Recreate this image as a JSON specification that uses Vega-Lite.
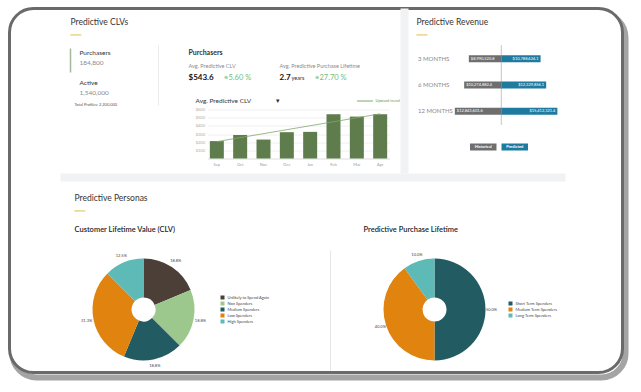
{
  "$schema": "https://vega.github.io/schema/vega-lite/v6.json",
  "background": "white",
  "padding": {"left": 7.5, "top": 6.5, "right": 5, "bottom": 5},
  "bounds": "flush",
  "spacing": 0,
  "config": {
    "font": "Lato",
    "view": {"stroke": null},
    "title": {"anchor": "start", "frame": "group", "color": "#333333", "fontWeight": "normal", "subtitleColor": "#e8c36a", "subtitleFont": "DejaVu Sans", "subtitleFontSize": 6, "subtitleFontWeight": "normal", "subtitlePadding": 6}
  },
  "resolve": {"scale": {"color": "independent", "x": "independent", "y": "independent", "theta": "independent", "stroke": "independent"}, "legend": {"color": "independent", "stroke": "independent"}},
  "vconcat": [
    {
      "hconcat": [
        {"width": 3, "height": 1, "data": {"values": []}, "mark": "point"},
        {
          "vconcat": [
            {"width": 1, "height": 5, "data": {"values": []}, "mark": "point"},
            {"width": 613, "height": 364, "view": {"stroke": "#a4a4a4", "strokeWidth": 6, "cornerRadius": 24, "fill": null}, "data": {"values": []}, "mark": "point"}
          ],
          "spacing": 0,
          "bounds": "flush"
        }
      ],
      "spacing": 0,
      "bounds": "flush"
    },
    {
      "vconcat": [
        {"width": 613, "height": 364, "view": {"stroke": "#6a6a6a", "strokeWidth": 3, "cornerRadius": 24, "fill": "white"}, "data": {"values": []}, "mark": "point"}
      ],
      "bounds": "flush"
    },
    {
      "hconcat": [
        {"width": 391, "height": 1, "data": {"values": []}, "mark": "point"},
        {"width": 8, "height": 165, "view": {"fill": "#f1f2f3"}, "data": {"values": []}, "mark": "point"}
      ],
      "spacing": 0,
      "bounds": "flush"
    },
    {"width": 1, "height": 37, "data": {"values": []}, "mark": "point"},
    {
      "hconcat": [
        {"width": 61, "height": 1, "data": {"values": []}, "mark": "point"},
        {
          "width": 88,
          "height": 60,
          "title": {"text": "Predictive CLVs", "subtitle": "━━━", "fontSize": 8.5, "offset": 7},
          "data": {"values": [
            {"metric": "Purchasers", "count": "184,800", "selected": true},
            {"metric": "Active", "count": "1,540,000", "selected": false}
          ]},
          "encoding": {"x": {"datum": 0, "type": "quantitative", "scale": {"domain": [0, 1]}, "axis": null}},
          "layer": [
            {"mark": {"type": "rule", "color": "#ececec", "strokeWidth": 1}, "encoding": {"x": {"datum": 1, "type": "quantitative"}}},
            {
              "transform": [{"filter": "datum.selected"}],
              "mark": {"type": "tick", "orient": "vertical", "color": "#7d9b6b", "thickness": 1.5, "size": 24},
              "encoding": {"y": {"field": "metric", "type": "nominal", "sort": null, "axis": null, "scale": {"domain": ["Purchasers", "Active"], "paddingInner": 0, "paddingOuter": 0}}}
            },
            {
              "mark": {"type": "text", "align": "left", "baseline": "middle", "dx": 9, "dy": -7.5, "fontSize": 6.5, "color": "#333333"},
              "encoding": {"y": {"field": "metric", "type": "nominal", "sort": null}, "text": {"field": "metric"}}
            },
            {
              "mark": {"type": "text", "align": "left", "baseline": "middle", "dx": 9, "dy": 2.5, "fontSize": 6.5, "color": "#8a8a8a"},
              "encoding": {"y": {"field": "metric", "type": "nominal", "sort": null}, "text": {"field": "count"}}
            },
            {
              "data": {"values": [{"note": "Total Profiles: 2,200,000"}]},
              "mark": {"type": "text", "align": "left", "baseline": "middle", "dx": 4, "dy": 29, "fontSize": 4, "color": "#555555"},
              "encoding": {"text": {"field": "note"}}
            }
          ]
        },
        {"width": 49, "height": 1, "data": {"values": []}, "mark": "point"},
        {
          "vconcat": [
            {
              "width": 182,
              "height": 43,
              "data": {"values": [
                {"metric": "Avg. Predictive CLV", "value": "$543.6", "unit": "", "change": "5.60 %"},
                {"metric": "Avg. Predictive Purchase Lifetime", "value": "2.7", "unit": "years", "change": "27.70 %"}
              ]},
              "encoding": {"x": {"field": "metric", "type": "nominal", "sort": null, "bandPosition": 0, "axis": null, "scale": {"type": "band", "paddingInner": 0, "paddingOuter": 0}}},
              "layer": [
                {
                  "transform": [{"filter": "datum.metric === 'Avg. Predictive CLV'"}],
                  "mark": {"type": "text", "align": "left", "baseline": "middle", "dx": -19, "dy": -14, "fontSize": 7, "fontWeight": "bold", "color": "#333333"},
                  "encoding": {"text": {"value": "Purchasers"}}
                },
                {"mark": {"type": "text", "align": "left", "baseline": "middle", "dx": -19, "dy": -1.5, "fontSize": 5.5, "color": "#8a8a8a"}, "encoding": {"text": {"field": "metric"}}},
                {"mark": {"type": "text", "align": "left", "baseline": "middle", "dx": -19, "dy": 10.5, "fontSize": 8, "fontWeight": "bold", "color": "#111111"}, "encoding": {"text": {"field": "value"}}},
                {"mark": {"type": "text", "align": "left", "baseline": "middle", "dx": -7, "dy": 11, "fontSize": 5.5, "color": "#333333"}, "encoding": {"text": {"field": "unit"}}},
                {"mark": {"type": "text", "align": "left", "baseline": "middle", "dx": 16, "dy": 10, "fontSize": 5, "color": "#6cc07c"}, "encoding": {"text": {"value": "⊕"}}},
                {"mark": {"type": "text", "align": "left", "baseline": "middle", "dx": 21, "dy": 10.5, "fontSize": 7.5, "color": "#6cc07c"}, "encoding": {"text": {"field": "change"}}}
              ]
            },
            {
              "width": 182,
              "height": 49,
              "title": {"text": "Avg. Predictive CLV\u2003\u2003\u2003\u2003\u2003▾", "fontSize": 6.5, "offset": -12, "dx": -12},
              "data": {"values": [
                {"month": "Sep", "clv": 213, "trend": 207},
                {"month": "Oct", "clv": 288},
                {"month": "Nov", "clv": 232},
                {"month": "Dec", "clv": 322},
                {"month": "Jan", "clv": 326},
                {"month": "Feb", "clv": 542},
                {"month": "Mar", "clv": 513},
                {"month": "Apr", "clv": 542, "trend": 547}
              ]},
              "encoding": {"x": {"field": "month", "type": "nominal", "sort": null, "scale": {"paddingInner": 0.4, "paddingOuter": 0.1}, "axis": {"title": null, "labelAngle": 0, "labelFontSize": 4, "labelColor": "#999999", "ticks": false, "domainColor": "#dddddd", "labelPadding": 4}}},
              "layer": [
                {
                  "mark": {"type": "bar", "color": "#5f7c4c"},
                  "encoding": {"y": {"field": "clv", "type": "quantitative", "scale": {"domain": [0, 600]}, "axis": {"title": null, "values": [100, 200, 300, 400, 500, 600], "format": "$d", "labelFontSize": 4, "labelColor": "#aaaaaa", "labelOverlap": false, "labelFlush": false, "domain": false, "ticks": false, "gridColor": "#f0f0f0", "labelPadding": 3}}}
                },
                {
                  "transform": [{"filter": "datum.trend != null"}],
                  "mark": {"type": "line", "strokeWidth": 0.8},
                  "encoding": {
                    "y": {"field": "trend", "type": "quantitative", "axis": {"title": null, "values": [100, 200, 300, 400, 500, 600], "format": "$d", "labelFontSize": 4, "labelColor": "#aaaaaa", "labelOverlap": false, "labelFlush": false, "domain": false, "ticks": false, "gridColor": "#f0f0f0", "labelPadding": 3}},
                    "stroke": {"datum": "Upward trend", "type": "nominal", "scale": {"range": ["#7fa86d"]}, "legend": {"title": null, "orient": "none", "legendX": 149, "legendY": -17, "labelFontSize": 4, "labelColor": "#6a9a5a", "symbolType": "stroke", "symbolSize": 250, "symbolStrokeWidth": 1, "padding": 0, "labelOffset": 2}}
                  }
                }
              ]
            }
          ],
          "spacing": 21,
          "bounds": "flush",
          "resolve": {"scale": {"x": "independent", "stroke": "independent"}, "legend": {"stroke": "independent"}}
        },
        {"width": 231, "height": 1, "data": {"values": []}, "mark": "point"},
        {
          "vconcat": [
            {
              "width": 121,
              "height": 79,
              "title": {"text": "Predictive Revenue", "subtitle": "━━━", "fontSize": 8.5, "offset": 7, "dx": -22},
              "data": {"values": [
                {"period": "3 MONTHS", "type": "Historical", "value": -8990520.8, "label": "$8,990,520.8"},
                {"period": "3 MONTHS", "type": "Predicted", "value": 10788624.1, "label": "$10,788,624.1"},
                {"period": "6 MONTHS", "type": "Historical", "value": -10274882.4, "label": "$10,274,882.4"},
                {"period": "6 MONTHS", "type": "Predicted", "value": 12329856.1, "label": "$12,329,856.1"},
                {"period": "12 MONTHS", "type": "Historical", "value": -12843601.6, "label": "$12,843,601.6"},
                {"period": "12 MONTHS", "type": "Predicted", "value": 15412321.4, "label": "$15,412,321.4"}
              ]},
              "layer": [
                {"mark": {"type": "rule", "color": "#d0d0d0"}, "encoding": {"x": {"datum": 0, "type": "quantitative", "scale": {"domain": [-17350000, 16000000], "nice": false}, "axis": null}}},
                {
                  "mark": {"type": "bar", "height": 7},
                  "encoding": {
                    "y": {"field": "period", "type": "nominal", "sort": null, "scale": {"paddingInner": 0, "paddingOuter": 0}, "axis": {"title": null, "domain": false, "ticks": false, "labelAlign": "left", "labelPadding": 21, "labelFontSize": 6, "labelColor": "#888888"}},
                    "x": {"field": "value", "type": "quantitative"},
                    "color": {"field": "type", "type": "nominal", "scale": {"domain": ["Historical", "Predicted"], "range": ["#6e6e6e", "#1f7aa0"]}, "legend": null}
                  }
                },
                {
                  "transform": [{"filter": "datum.type === 'Historical'"}],
                  "mark": {"type": "text", "align": "left", "baseline": "middle", "dx": 2, "fontSize": 4, "color": "white"},
                  "encoding": {"y": {"field": "period", "type": "nominal", "sort": null}, "x": {"field": "value", "type": "quantitative"}, "text": {"field": "label"}}
                },
                {
                  "transform": [{"filter": "datum.type === 'Predicted'"}],
                  "mark": {"type": "text", "align": "right", "baseline": "middle", "dx": -2, "fontSize": 4, "color": "white"},
                  "encoding": {"y": {"field": "period", "type": "nominal", "sort": null}, "x": {"field": "value", "type": "quantitative"}, "text": {"field": "label"}}
                }
              ]
            },
            {
              "width": 121,
              "height": 7,
              "data": {"values": [{"type": "Historical"}, {"type": "Predicted"}]},
              "encoding": {"x": {"field": "type", "type": "nominal", "sort": null, "scale": {"paddingInner": 0.16, "paddingOuter": 1.4}, "axis": null}},
              "layer": [
                {"mark": {"type": "bar"}, "encoding": {"color": {"field": "type", "type": "nominal", "scale": {"domain": ["Historical", "Predicted"], "range": ["#6e6e6e", "#1f7aa0"]}, "legend": null}}},
                {"mark": {"type": "text", "color": "white", "fontSize": 4, "fontWeight": "bold", "baseline": "middle"}, "encoding": {"text": {"field": "type"}}}
              ]
            }
          ],
          "spacing": 19,
          "bounds": "flush",
          "resolve": {"scale": {"x": "independent"}}
        }
      ],
      "spacing": 0,
      "bounds": "flush",
      "resolve": {"scale": {"color": "independent", "x": "independent", "y": "independent", "stroke": "independent"}, "legend": {"stroke": "independent"}}
    },
    {"width": 1, "height": 128, "data": {"values": []}, "mark": "point"},
    {
      "hconcat": [
        {"width": 51, "height": 1, "data": {"values": []}, "mark": "point"},
        {"width": 505, "height": 8, "view": {"fill": "#f1f2f3"}, "data": {"values": []}, "mark": "point"}
      ],
      "spacing": 0,
      "bounds": "flush"
    },
    {"width": 1, "height": 77, "data": {"values": []}, "mark": "point"},
    {
      "title": {"text": "Predictive Personas", "subtitle": "━━━", "fontSize": 8.5, "dx": 65, "offset": 12},
      "hconcat": [
        {"width": 61, "height": 1, "data": {"values": []}, "mark": "point"},
        {
          "width": 146,
          "height": 118,
          "title": {"text": "Customer Lifetime Value (CLV)", "fontSize": 7.5, "fontWeight": 600, "color": "#222222", "dx": 4, "offset": 17},
          "data": {"values": [
            {"segment": "Unlikely to Spend Again", "share": 18.75, "label": "18.8%", "rank": 1},
            {"segment": "Non Spenders", "share": 18.75, "label": "18.8%", "rank": 2},
            {"segment": "Medium Spenders", "share": 18.75, "label": "18.8%", "rank": 3},
            {"segment": "Low Spenders", "share": 31.25, "label": "31.3%", "rank": 4},
            {"segment": "High Spenders", "share": 12.5, "label": "12.5%", "rank": 5}
          ]},
          "encoding": {"theta": {"field": "share", "type": "quantitative", "stack": true}, "order": {"field": "rank", "type": "quantitative"}},
          "layer": [
            {
              "mark": {"type": "arc", "radius": 51, "innerRadius": 12},
              "encoding": {"color": {"field": "segment", "type": "nominal", "sort": null, "scale": {"domain": ["Unlikely to Spend Again", "Non Spenders", "Medium Spenders", "Low Spenders", "High Spenders"], "range": ["#4b3f37", "#9dc88d", "#235b62", "#e0830f", "#5ebab6"]}, "legend": {"title": null, "orient": "none", "legendX": 150, "legendY": 45, "symbolType": "square", "symbolSize": 16, "symbolStrokeWidth": 0, "labelFontSize": 4, "labelColor": "#444444", "rowPadding": 2, "labelOffset": 3, "padding": 0}}}
            },
            {"mark": {"type": "text", "radius": 58, "fontSize": 4, "color": "#444444"}, "encoding": {"text": {"field": "label"}}}
          ]
        },
        {"width": 114, "height": 1, "data": {"values": []}, "mark": "point"},
        {"width": 1, "height": 120, "data": {"values": [{}]}, "mark": {"type": "rule", "color": "#e6e6e6"}, "encoding": {"x": {"datum": 0, "type": "quantitative", "scale": {"domain": [0, 1]}, "axis": null}}},
        {"width": 44, "height": 1, "data": {"values": []}, "mark": "point"},
        {
          "width": 118,
          "height": 118,
          "title": {"text": "Predictive Purchase Lifetime", "fontSize": 7.5, "fontWeight": 600, "color": "#222222", "dx": -12, "offset": 17},
          "data": {"values": [
            {"segment": "Short Term Spenders", "share": 50, "label": "50.0%", "rank": 1},
            {"segment": "Medium Term Spenders", "share": 40, "label": "40.0%", "rank": 2},
            {"segment": "Long Term Spenders", "share": 10, "label": "10.0%", "rank": 3}
          ]},
          "encoding": {"theta": {"field": "share", "type": "quantitative", "stack": true}, "order": {"field": "rank", "type": "quantitative"}},
          "layer": [
            {
              "mark": {"type": "arc", "radius": 51, "innerRadius": 12},
              "encoding": {"color": {"field": "segment", "type": "nominal", "sort": null, "scale": {"domain": ["Short Term Spenders", "Medium Term Spenders", "Long Term Spenders"], "range": ["#235b62", "#e0830f", "#5ebab6"]}, "legend": {"title": null, "orient": "none", "legendX": 133, "legendY": 51, "symbolType": "square", "symbolSize": 16, "symbolStrokeWidth": 0, "labelFontSize": 4, "labelColor": "#444444", "rowPadding": 2, "labelOffset": 3, "padding": 0}}}
            },
            {"mark": {"type": "text", "radius": 57, "fontSize": 4, "color": "#444444"}, "encoding": {"text": {"field": "label"}}}
          ]
        }
      ],
      "spacing": 0,
      "bounds": "flush",
      "resolve": {"scale": {"color": "independent", "theta": "independent", "x": "independent"}, "legend": {"color": "independent"}}
    }
  ]
}
